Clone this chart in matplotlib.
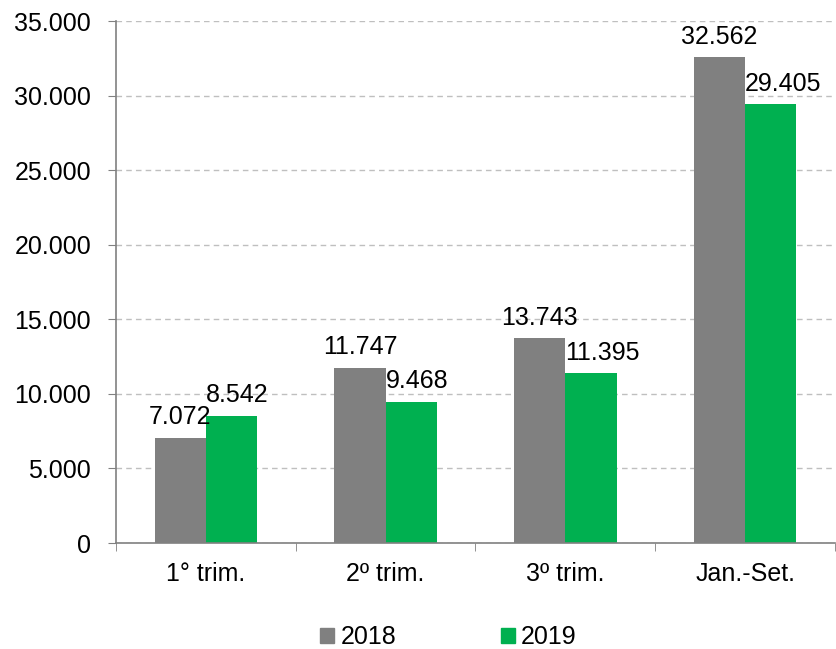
import matplotlib.pyplot as plt
import numpy as np
from matplotlib.patches import Patch

plt.rcParams['font.family'] = ['Liberation Sans', 'DejaVu Sans']

categories = ['1° trim.', '2º trim.', '3º trim.', 'Jan.-Set.']
values_2018 = [7072, 11747, 13743, 32562]
values_2019 = [8542, 9468, 11395, 29405]
series_names = ['2018', '2019']

gray = '#808080'
green = '#00B050'
fs = 18

fig = plt.figure(figsize=(8.37, 6.49), dpi=100)
ax = fig.add_axes([0.1386, 0.1633, 0.859, 0.8043])

x = np.arange(len(categories))
w = 0.285
b1 = ax.bar(x - w / 2, values_2018, w, color=gray, label=series_names[0])
b2 = ax.bar(x + w / 2, values_2019, w, color=green, label=series_names[1])


def fmt(v):
    return f"{v:,}".replace(',', '.')


# 2018 labels centred, 2019 labels start at the bar's left edge
for rect, v in zip(b1, values_2018):
    ax.annotate(fmt(v), (rect.get_x() + rect.get_width() / 2, rect.get_height()),
                xytext=(0, 6), textcoords='offset points',
                ha='center', va='bottom', fontsize=fs)
for rect, v in zip(b2, values_2019):
    ax.annotate(fmt(v), (rect.get_x(), rect.get_height()),
                xytext=(0, 6), textcoords='offset points',
                ha='left', va='bottom', fontsize=fs)

ax.set_xlim(-0.5, len(categories) - 0.5)
ax.set_ylim(0, 35000)
ax.set_yticks(range(0, 35001, 5000))
ax.set_yticklabels([fmt(v) for v in range(0, 35001, 5000)], fontsize=fs)
ax.set_xticks(x)
ax.set_xticklabels(categories, fontsize=fs)
ax.tick_params(axis='x', length=0, pad=14)
ax.set_xticks(np.arange(-0.5, len(categories), 1), minor=True)
ax.tick_params(axis='x', which='minor', length=6, color=gray, direction='out')
ax.tick_params(axis='y', length=6, color=gray, direction='out', pad=12)

ax.yaxis.grid(True, linestyle=(0, (4, 3)), color='#BFBFBF', linewidth=1)
ax.set_axisbelow(True)
for s in ['top', 'right']:
    ax.spines[s].set_visible(False)
for s in ['left', 'bottom']:
    ax.spines[s].set_color(gray)
    ax.spines[s].set_linewidth(1.2)

handles = [Patch(color=gray), Patch(color=green)]
fig.legend(handles, series_names, loc='center', bbox_to_anchor=(0.536, 0.018),
           ncol=2, frameon=False, fontsize=fs, handlelength=0.55, handleheight=0.55,
           handletextpad=0.25, columnspacing=4.2)

fig.savefig('out.png', dpi=100)
